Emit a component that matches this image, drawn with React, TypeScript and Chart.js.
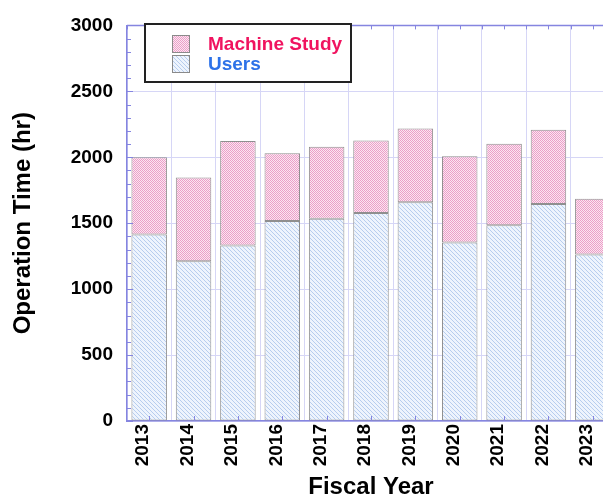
import React, { useEffect, useRef } from "react";
import { Chart, registerables } from "chart.js";

Chart.register(...registerables);

const years = ["2013", "2014", "2015", "2016", "2017", "2018", "2019", "2020", "2021", "2022", "2023"];
const users = [1415, 1211, 1330, 1517, 1534, 1577, 1658, 1353, 1484, 1645, 1263];
const machineStudy = [585, 635, 794, 513, 546, 550, 561, 655, 618, 564, 422];
const seriesNames = ["Users", "Machine Study"];
const legendTextColors = ["#2d72e8", "#f0135f"];
const yMin = 0;
const yMax = 3000;
const yStep = 500;
const yMinorStep = 100;

const FONT = "'Liberation Sans', Arial, sans-serif";
const AXIS_COLOR = "#8585e0";
const GRID_COLOR = "#d6d6f6";

function makePinkPattern(): CanvasPattern | string {
  const c = document.createElement("canvas");
  c.width = 2;
  c.height = 2;
  const g = c.getContext("2d");
  if (!g) return "#f1b9d6";
  g.fillStyle = "#fbe6f1";
  g.fillRect(0, 0, 2, 2);
  g.fillStyle = "#eb9fc8";
  g.fillRect(0, 0, 1, 1);
  g.fillRect(1, 1, 1, 1);
  return g.createPattern(c, "repeat") || "#f1b9d6";
}

function makeBluePattern(): CanvasPattern | string {
  const c = document.createElement("canvas");
  c.width = 4;
  c.height = 4;
  const g = c.getContext("2d");
  if (!g) return "#e3edfa";
  g.fillStyle = "#eef4fd";
  g.fillRect(0, 0, 4, 4);
  g.fillStyle = "#b7cdee";
  for (let i = 0; i < 4; i++) g.fillRect(i, i, 1, 1);
  return g.createPattern(c, "repeat") || "#e3edfa";
}

const framePlugin = {
  id: "frame",
  afterDatasetsDraw(chart: any) {
    const { ctx, chartArea, scales } = chart;
    const { left, right, top, bottom } = chartArea;
    const x = scales.x;
    const y = scales.y;
    ctx.save();
    ctx.strokeStyle = AXIS_COLOR;
    ctx.lineWidth = 1.5;
    ctx.beginPath();
    ctx.moveTo(left, top);
    ctx.lineTo(right, top);
    ctx.stroke();
    ctx.lineWidth = 1;
    ctx.beginPath();
    for (let v = yMin; v <= yMax; v += yMinorStep) {
      const py = Math.round(y.getPixelForValue(v)) + 0.5;
      const len = v % yStep === 0 ? 6 : 4;
      ctx.moveTo(left, py);
      ctx.lineTo(left + len, py);
    }
    const half = (x.getPixelForValue(1) - x.getPixelForValue(0)) / 2;
    for (let i = 0; i < years.length; i++) {
      const cx = Math.round(x.getPixelForValue(i)) + 0.5;
      const bx = Math.round(x.getPixelForValue(i) - half) + 0.5;
      ctx.moveTo(cx, top);
      ctx.lineTo(cx, top + 4);
      ctx.moveTo(bx, top);
      ctx.lineTo(bx, top + 4);
      ctx.moveTo(cx, bottom);
      ctx.lineTo(cx, bottom - 5);
    }
    ctx.stroke();
    ctx.restore();
  },
};

const legendPlugin = {
  id: "boxLegend",
  afterDraw(chart: any) {
    const { ctx } = chart;
    const datasets = chart.data.datasets;
    ctx.save();
    ctx.fillStyle = "#ffffff";
    ctx.fillRect(145, 24, 206, 58);
    ctx.strokeStyle = "#222222";
    ctx.lineWidth = 2;
    ctx.strokeRect(145, 24, 206, 58);
    const order = [1, 0];
    order.forEach((di, row) => {
      const ds = datasets[di];
      const sy = 35 + row * 20;
      ctx.fillStyle = ds.backgroundColor;
      ctx.fillRect(172, sy, 18, 18);
      ctx.strokeStyle = "#8a8a8a";
      ctx.lineWidth = 1;
      ctx.strokeRect(172.5, sy + 0.5, 17, 17);
      ctx.fillStyle = legendTextColors[di];
      ctx.font = `bold 19px ${FONT}`;
      ctx.textBaseline = "middle";
      ctx.textAlign = "left";
      ctx.fillText(ds.label, 208, sy + 10);
    });
    ctx.restore();
  },
};

export default function App() {
  const canvasRef = useRef<HTMLCanvasElement | null>(null);

  useEffect(() => {
    const canvas = canvasRef.current;
    if (!canvas) return;
    const pink = makePinkPattern();
    const blue = makeBluePattern();
    const chart = new Chart(canvas, {
      type: "bar",
      data: {
        labels: years,
        datasets: [
          {
            label: seriesNames[0],
            data: users,
            backgroundColor: blue as any,
            borderColor: "#8f8f8f",
            borderWidth: 1,
            borderSkipped: false,
            barPercentage: 0.8,
            categoryPercentage: 1.0,
          },
          {
            label: seriesNames[1],
            data: machineStudy,
            backgroundColor: pink as any,
            borderColor: "#8f8f8f",
            borderWidth: 1,
            borderSkipped: false,
            barPercentage: 0.8,
            categoryPercentage: 1.0,
          },
        ],
      },
      options: {
        responsive: false,
        animation: false,
        layout: { padding: { top: 18, right: 15, left: 0, bottom: 0 } },
        plugins: {
          legend: { display: false },
          tooltip: { enabled: false },
        },
        scales: {
          x: {
            stacked: true,
            afterFit: (scale: any) => {
              scale.height = 79;
            },
            grid: { color: GRID_COLOR, lineWidth: 1, drawTicks: false, offset: true },
            border: { display: true, color: AXIS_COLOR, width: 1.5 },
            ticks: {
              color: "#000",
              font: { family: FONT, size: 19, weight: "bold" },
              maxRotation: 90,
              minRotation: 90,
              padding: 3,
              labelOffset: -6,
              autoSkip: false,
            },
            title: {
              display: true,
              text: "Fiscal Year",
              color: "#000",
              font: { family: FONT, size: 24, weight: "bold", lineHeight: 1 },
              padding: { top: 0, bottom: 1 },
            },
          },
          y: {
            stacked: true,
            min: yMin,
            max: yMax,
            afterFit: (scale: any) => {
              scale.width = 127;
            },
            grid: { color: GRID_COLOR, lineWidth: 1, drawTicks: false },
            border: { display: true, color: AXIS_COLOR, width: 1.5 },
            ticks: {
              stepSize: yStep,
              color: "#000",
              font: { family: FONT, size: 19, weight: "bold" },
              padding: 14,
              callback: (value: any) => String(value),
            },
            title: {
              display: true,
              text: "Operation Time (hr)",
              color: "#000",
              font: { family: FONT, size: 24, weight: "bold", lineHeight: 1.2 },
              padding: { top: 9, bottom: 0 },
            },
          },
        },
      },
      plugins: [framePlugin, legendPlugin],
    });
    return () => chart.destroy();
  }, []);

  return (
    <div
      style={{
        position: "fixed",
        left: 0,
        top: 0,
        width: 603,
        height: 496,
        overflow: "hidden",
        background: "#ffffff",
      }}
    >
      <canvas ref={canvasRef} width={630} height={500} style={{ display: "block" }} />
    </div>
  );
}
